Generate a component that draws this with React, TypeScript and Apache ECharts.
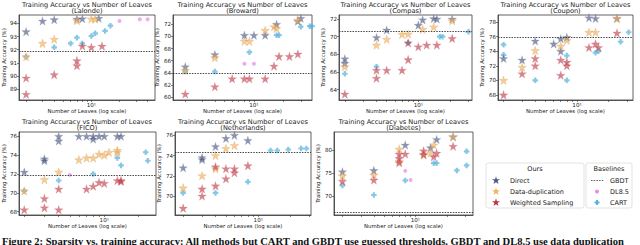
import React, { useEffect, useRef } from 'react';
import * as echarts from 'echarts';

// ---------- data ----------
const datasetNames = ['Lalonde', 'Broward', 'Compas', 'Coupon', 'FICO', 'Netherlands', 'Diabetes'];
const gbdtValues = [91.85, 64.0, 70.6, 75.9, 71.9, 74.3, 66.5];
const xTickLabelValues = [10];
const xMinorTickValues = [2, 3, 4, 5, 6, 7, 8, 9, 10, 20, 30, 40];
const yTickValues = [
  [89, 90, 91, 92, 93, 94],
  [60, 62, 64, 66, 68, 70, 72],
  [64, 66, 68, 70, 72],
  [68, 70, 72, 74, 76, 78],
  [68, 70, 72, 74, 76],
  [70, 72, 74, 76],
  [70, 75, 80],
];

// Lalonde
const lalondeDirect = [[2, 93.37], [3, 94.18], [4, 94.28], [7, 94.33], [8, 94.35], [12, 94.38]];
const lalondeDup = [[2, 91.47], [3, 92.48], [4, 92.79], [7, 94.2], [10, 94.33], [11, 94.33]];
const lalondeWeighted = [[2, 89.86], [2, 88.62], [4, 90.11], [7, 91.17], [7, 90.79], [8, 92.28], [10, 92.18], [13, 92.28]];
const lalondeCart = [[2, 91.47], [4, 92.18], [6, 92.48], [7, 92.91], [8, 92.48], [10, 93.04], [11, 93.24], [14, 93.42], [16, 93.82]];
const lalondeDl85 = [[20, 94.18], [33, 94.3], [40, 94.3]];

// Broward
const browardDirect = [[2, 65.0], [4, 67.0], [8, 70.2], [10, 70.2], [13, 70.2], [17, 72.0], [28, 72.5], [30, 73.0]];
const browardDup = [[2, 64.4], [4, 66.5], [8, 69.2], [9, 69.2], [13, 71.0], [16, 71.6], [17, 71.3], [28, 72.7]];
const browardWeighted = [[2, 60.5], [4, 61.7], [6, 63.0], [8, 63.0], [9, 63.0], [13, 63.0], [16, 65.1], [18, 66.7], [23, 66.7], [28, 67.1]];
const browardCart = [[2, 64.2], [4, 64.2], [9, 67.4], [17, 70.2], [18, 70.2], [30, 71.6], [37, 71.7], [39, 71.7]];
const browardDl85 = [[8, 65.5], [10, 65.5]];

// Compas
const compasDirect = [[2, 67.5], [2, 67.0], [4, 69.9], [5, 70.75], [10, 71.3], [11, 71.9], [14, 72.05], [15, 72.0], [21, 72.0]];
const compasDup = [[2, 66.6], [4, 69.05], [5, 69.7], [7, 70.26], [8, 70.3], [11, 70.83], [14, 71.1], [21, 71.8]];
const compasWeighted = [[2, 63.5], [4, 66.2], [4, 65.3], [5, 66.2], [7, 66.2], [8, 67.4], [8, 69.3], [10, 68.85], [12, 69.05], [15, 69.05], [21, 69.8]];
const compasCart = [[2, 65.8], [4, 66.6], [8, 69.3], [16, 70.0], [17, 70.0], [30, 70.55]];
const compasDl85: number[][] = [];

// Coupon
const couponDirect = [[2, 73.0], [3, 72.8], [4, 75.4], [6, 75.0], [7, 74.0], [7, 75.7], [8, 75.9], [13, 78.6], [15, 78.5], [24, 78.5]];
const couponDup = [[2, 70.0], [3, 71.8], [4, 74.1], [7, 74.7], [8, 75.5], [13, 76.6], [15, 76.6], [24, 78.5]];
const couponWeighted = [[2, 68.0], [3, 70.9], [4, 73.0], [4, 72.0], [7, 72.8], [7, 70.7], [8, 72.5], [8, 72.0], [13, 74.5], [15, 75.0], [16, 74.5], [24, 76.5]];
const couponCart = [[2, 74.9], [2, 73.5], [4, 70.0], [8, 73.4], [8, 70.0], [15, 73.8], [16, 74.0], [26, 75.3], [31, 76.6]];
const couponDl85: number[][] = [];

// FICO
const ficoDirect = [[2, 72.2], [3, 73.6], [3, 73.4], [4, 76.0], [4, 75.5], [6, 76.0], [7, 76.0], [8, 76.0], [8, 75.7], [9, 76.0], [10, 76.0], [13, 76.0], [14, 76.0]];
const ficoDup = [[2, 70.2], [3, 71.4], [4, 72.2], [6, 73.5], [7, 73.7], [8, 73.7], [9, 74.1], [10, 74.0], [11, 74.3], [13, 74.3], [13, 74.5]];
const ficoWeighted = [[2, 68.2], [3, 69.4], [3, 68.4], [4, 70.4], [4, 68.2], [7, 70.4], [8, 70.7], [9, 71.1], [10, 71.0], [13, 71.3], [14, 71.3], [14, 71.2]];
const ficoCart = [[2, 70.2], [4, 71.3], [8, 72.0], [13, 73.7], [14, 72.9], [23, 74.3], [24, 73.4]];
const ficoDl85 = [[5, 71.9]];

// Netherlands
const netherlandsDirect = [[2, 72.8], [3, 73.8], [3, 73.6], [4, 74.9], [5, 75.7], [6, 76.0], [8, 75.5]];
const netherlandsDup = [[2, 70.8], [3, 72.0], [4, 74.0], [4, 72.7], [5, 74.7], [6, 75.0]];
const netherlandsWeighted = [[2, 68.8], [3, 70.7], [3, 70.0], [4, 72.9], [4, 71.0], [5, 72.7], [5, 71.7], [6, 72.7], [6, 72.3], [8, 73.0]];
const netherlandsCart = [[2, 70.3], [4, 70.3], [8, 71.4], [13, 74.5], [15, 74.5], [19, 74.6], [25, 74.7], [28, 74.7]];
const netherlandsDl85: number[][] = [];

// Diabetes
const diabetesDirect = [[2, 75.3], [4, 75.6], [8, 81.2], [14, 80.6], [16, 82.4], [23, 83.0]];
const diabetesDup = [[2, 74.4], [4, 74.6], [7, 80.3], [7, 77.6], [12, 79.0], [14, 79.5], [15, 81.2], [23, 83.0]];
const diabetesWeighted = [[2, 73.2], [4, 73.5], [7, 79.2], [7, 78.2], [7, 77.3], [8, 79.2], [12, 79.9], [12, 79.1], [15, 78.6], [16, 79.4], [23, 80.9]];
const diabetesCart = [[2, 72.3], [4, 70.2], [8, 73.4], [15, 77.2], [16, 77.2], [25, 75.6], [31, 79.8], [31, 76.7]];
const diabetesDl85 = [[8, 75.5], [9, 73.5]];

const panelSeries = [
  [lalondeDirect, lalondeDup, lalondeWeighted, lalondeCart, lalondeDl85],
  [browardDirect, browardDup, browardWeighted, browardCart, browardDl85],
  [compasDirect, compasDup, compasWeighted, compasCart, compasDl85],
  [couponDirect, couponDup, couponWeighted, couponCart, couponDl85],
  [ficoDirect, ficoDup, ficoWeighted, ficoCart, ficoDl85],
  [netherlandsDirect, netherlandsDup, netherlandsWeighted, netherlandsCart, netherlandsDl85],
  [diabetesDirect, diabetesDup, diabetesWeighted, diabetesCart, diabetesDl85],
];

// ---------- layout ----------
const grids = [
  { left: 19, top: 15, width: 136, height: 85, x: [1.68, 48], y: [88.19, 94.63] },
  { left: 173, top: 15, width: 139, height: 85, x: [1.5, 39], y: [59.5, 73.54] },
  { left: 339, top: 15, width: 133, height: 85, x: [1.76, 32.4], y: [62.83, 72.45] },
  { left: 498, top: 15, width: 135, height: 85, x: [1.77, 34.1], y: [67.3, 78.97] },
  { left: 18, top: 132, width: 138, height: 83, x: [1.8, 28.3], y: [67.64, 76.45] },
  { left: 175, top: 132, width: 136, height: 83, x: [1.68, 30.9], y: [68.12, 76.33] },
  { left: 334, top: 132, width: 139, height: 83, x: [1.66, 35.7], y: [65.8, 84.04] },
];

const FONT = 'DejaVu Sans';
const STAR_D = 'M50,2 L61.2,36.2 L97.5,36.5 L68.2,57.8 L79.4,92.3 L50,71 L20.6,92.3 L31.8,57.8 L2.5,36.5 L38.8,36.2 Z';
const PLUS_D = 'M30,0 H70 V30 H100 V70 H70 V100 H30 V70 H0 V30 H30 Z';
const STAR = 'path://' + STAR_D;
const PLUS = 'path://' + PLUS_D;

const C_DIRECT = 'rgba(62,74,118,0.75)';
const C_DUP = 'rgba(244,172,78,0.78)';
const C_WS = 'rgba(186,42,56,0.72)';
const C_CART = 'rgba(88,178,220,0.9)';
const C_DL = 'rgba(232,140,232,0.9)';

echarts.graphic.registerShape('star5', echarts.graphic.extendPath(STAR_D, {}) as any);
echarts.graphic.registerShape('plus5', echarts.graphic.extendPath(PLUS_D, {}) as any);

function buildOption() {
  const grid: any[] = [];
  const xAxis: any[] = [];
  const yAxis: any[] = [];
  const series: any[] = [];
  const graphic: any[] = [];

  grids.forEach((g, i) => {
    grid.push({
      left: g.left, top: g.top, width: g.width, height: g.height,
      show: true, borderColor: '#3a3a3a', borderWidth: 0.8, backgroundColor: 'transparent',
    });
    xAxis.push({
      type: 'log', logBase: 10, gridIndex: i, min: g.x[0], max: g.x[1],
      axisLine: { show: true, lineStyle: { color: '#3a3a3a', width: 0.8 } },
      axisTick: {
        show: true, length: 2, lineStyle: { color: '#333', width: 0.6 },
        customValues: xMinorTickValues.filter((v) => v >= g.x[0] && v <= g.x[1]),
      },
      axisLabel: {
        show: true, customValues: xTickLabelValues, formatter: () => '10\u00b9',
        fontSize: 5.6, color: '#222', margin: 2, fontFamily: FONT,
      },
      minorTick: { show: false }, splitLine: { show: false },
      name: 'Number of Leaves (log scale)', nameLocation: 'middle', nameGap: 6,
      nameTextStyle: { fontSize: 5.4, color: '#222', fontFamily: FONT },
    });
    yAxis.push({
      type: 'value', gridIndex: i, min: g.y[0], max: g.y[1],
      axisLine: { show: true, lineStyle: { color: '#3a3a3a', width: 0.8 } },
      axisTick: { show: true, length: 2, lineStyle: { color: '#333', width: 0.6 }, customValues: yTickValues[i] },
      axisLabel: { show: true, customValues: yTickValues[i], fontSize: 5.6, color: '#222', margin: 2, fontFamily: FONT },
      splitLine: { show: false },
      name: 'Training Accuracy (%)', nameLocation: 'middle', nameGap: 10,
      nameTextStyle: { fontSize: 5.4, color: '#222', fontFamily: FONT },
    });

    const [dDirect, dDup, dWs, dCart, dDl] = panelSeries[i];
    const common = { type: 'scatter', xAxisIndex: i, yAxisIndex: i, silent: true };
    series.push({
      ...common, name: 'CART', data: dCart, symbol: PLUS, symbolSize: 5.5,
      itemStyle: { color: C_CART },
      markLine: {
        silent: true, symbol: 'none', label: { show: false },
        lineStyle: { color: '#333', width: 0.9, type: [1.5, 1.2] },
        data: [{ yAxis: gbdtValues[i] }],
      },
    });
    series.push({ ...common, name: 'DL8.5', data: dDl, symbol: 'circle', symbolSize: 4, itemStyle: { color: C_DL } });
    series.push({ ...common, name: 'Direct', data: dDirect, symbol: STAR, symbolSize: 8.6, itemStyle: { color: C_DIRECT, borderColor: 'rgba(150,158,185,0.7)', borderWidth: 0.4 } });
    series.push({ ...common, name: 'Data-duplication', data: dDup, symbol: STAR, symbolSize: 8.6, itemStyle: { color: C_DUP, borderColor: 'rgba(200,150,90,0.7)', borderWidth: 0.4 } });
    series.push({ ...common, name: 'Weighted Sampling', data: dWs, symbol: STAR, symbolSize: 8.6, itemStyle: { color: C_WS, borderColor: 'rgba(200,120,130,0.7)', borderWidth: 0.4 } });

    const cx = g.left + g.width / 2;
    graphic.push({ type: 'text', x: cx, y: g.top - 14, style: { text: 'Training Accuracy vs Number of Leaves', fontSize: 6.6, fontFamily: FONT, fill: '#222', textAlign: 'center', textVerticalAlign: 'top' } });
    graphic.push({ type: 'text', x: cx, y: g.top - 7.5, style: { text: '(' + datasetNames[i] + ')', fontSize: 6.6, fontFamily: FONT, fill: '#222', textAlign: 'center', textVerticalAlign: 'top' } });
  });

  // legend boxes
  graphic.push({ type: 'rect', shape: { x: 486, y: 163, width: 98, height: 45, r: 2 }, style: { fill: '#fff', stroke: '#dcdcdc', lineWidth: 0.8 } });
  graphic.push({ type: 'rect', shape: { x: 586, y: 163, width: 46, height: 45, r: 2 }, style: { fill: '#fff', stroke: '#dcdcdc', lineWidth: 0.8 } });
  const lt = (text: string, x: number, y: number, align = 'left') => ({
    type: 'text', x, y, style: { text, fontSize: 6.5, fontFamily: FONT, fill: '#222', textAlign: align, textVerticalAlign: 'middle' },
  });
  graphic.push(lt('Ours', 535, 168.5, 'center'));
  graphic.push(lt('Direct', 510, 180.5));
  graphic.push(lt('Data-duplication', 510, 191.5));
  graphic.push(lt('Weighted Sampling', 510, 202.5));
  const starAt = (cx: number, cy: number, fill: string) => ({
    type: 'star5', x: cx - 4.25, y: cy - 4.4, scaleX: 0.085, scaleY: 0.085, style: { fill },
  });
  graphic.push(starAt(496, 180.5, '#4c5a82'));
  graphic.push(starAt(496, 191.5, '#f4b35e'));
  graphic.push(starAt(496, 202.5, '#b8323f'));
  graphic.push(lt('Baselines', 609, 168.5, 'center'));
  graphic.push(lt('GBDT', 610, 180.5));
  graphic.push(lt('DL8.5', 610, 191.5));
  graphic.push(lt('CART', 610, 202.5));
  graphic.push({ type: 'line', shape: { x1: 591, y1: 180.5, x2: 604, y2: 180.5 }, style: { stroke: '#333', lineWidth: 0.8, lineDash: [1.5, 1.2] } });
  graphic.push({ type: 'circle', shape: { cx: 597, cy: 191.5, r: 2 }, style: { fill: '#e88ce8' } });
  graphic.push({ type: 'plus5', x: 597 - 2.5, y: 202.5 - 2.5, scaleX: 0.05, scaleY: 0.05, style: { fill: '#58b2dc' } });

  // caption
  graphic.push({
    type: 'text', x: 2, y: 236,
    style: {
      text: 'Figure 2: Sparsity vs. training accuracy: All methods but CART and GBDT use guessed thresholds. GBDT and DL8.5 use data duplication',
      fontSize: 10.55, fontWeight: 'bold', fontFamily: 'Liberation Serif', fill: '#111', textVerticalAlign: 'top',
    },
  });

  return { animation: false, backgroundColor: '#fff', grid, xAxis, yAxis, series, graphic };
}

export default function App() {
  const ref = useRef<HTMLDivElement>(null);
  useEffect(() => {
    document.body.style.margin = '0';
    const chart = echarts.init(ref.current!, null, { renderer: 'svg' });
    chart.setOption(buildOption() as any);
    return () => chart.dispose();
  }, []);
  return <div ref={ref} style={{ width: 640, height: 245, overflow: 'hidden' }} />;
}
